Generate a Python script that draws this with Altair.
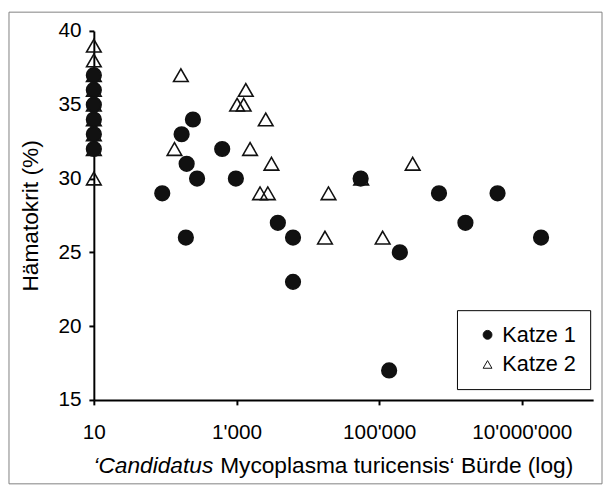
import altair as alt
import pandas as pd

# ---- data ----
k1_load = [10, 10, 10, 10, 10, 10,
           91, 170, 200, 195, 245, 280, 630, 980, 3800, 6200, 6200,
           55000, 138000, 195000, 690000, 1620000, 4570000, 18600000]
k1_hkt = [37, 36, 35, 34, 33, 32,
          29, 33, 31, 26, 34, 30, 32, 30, 27, 26, 23,
          30, 17, 25, 29, 27, 29, 26]

k2_load = [10, 10, 10, 10, 10, 10, 10, 10, 10,
           135, 166, 1020, 1260, 1350, 1550, 2570, 2140, 2750, 3090,
           19500, 17400, 56000, 112000, 295000]
k2_hkt = [39, 38, 37, 36, 35, 34, 33, 32, 30,
          32, 37, 35, 35, 36, 32, 34, 29, 29, 31,
          29, 26, 30, 26, 31]

series_names = ["Katze 1", "Katze 2"]
x_ticks = [10, 1000, 100000, 10000000]
y_ticks = [15, 20, 25, 30, 35, 40]

FONT = "Liberation Sans"
FS = 21        # tick labels
FT = 23        # axis titles
FL = 22        # legend labels
W, H = 506, 374

# Katze 2 first so that the filled circles are drawn on top
df = pd.concat([
    pd.DataFrame({"load": k2_load, "hkt": k2_hkt, "Katze": series_names[1]}),
    pd.DataFrame({"load": k1_load, "hkt": k1_hkt, "Katze": series_names[0]}),
], ignore_index=True)

scale_shape = alt.Scale(domain=series_names, range=["circle", "triangle-up"])
scale_fill = alt.Scale(domain=series_names, range=["#111111", "transparent"])
scale_stroke = alt.Scale(domain=series_names, range=["#111111", "#111111"])

legend = alt.Legend(title=None, orient="none", legendX=368, legendY=283,
                    strokeColor="black", fillColor="white", padding=14,
                    symbolSize=80, symbolStrokeWidth=1, labelFont=FONT,
                    labelFontSize=FL, labelColor="black", labelOffset=4,
                    rowPadding=8, symbolOffset=6)

points = alt.Chart(df).mark_point(opacity=1, strokeWidth=1.6, size=220).encode(
    x=alt.X("load:Q", scale=alt.Scale(type="log", domain=[10, 1e8], nice=False),
            axis=alt.Axis(values=x_ticks, title=None, labelFlush=False,
                          labelExpr="replace(format(datum.value, ','), regexp(',', 'g'), \"'\")",
                          labelPadding=17)),
    y=alt.Y("hkt:Q", scale=alt.Scale(domain=[15, 40], nice=False, zero=False),
            axis=alt.Axis(values=y_ticks, title="Hämatokrit (%)", labelPadding=8,
                          titlePadding=16)),
    shape=alt.Shape("Katze:N", scale=scale_shape, legend=legend),
    fill=alt.Fill("Katze:N", scale=scale_fill, legend=legend),
    stroke=alt.Stroke("Katze:N", scale=scale_stroke, legend=legend),
)

one = pd.DataFrame({"a": [0]})
border = alt.Chart(one).mark_rect(fill="transparent", stroke="#808080", strokeWidth=1).encode(
    x=alt.value(-86), x2=alt.value(515), y=alt.value(-19), y2=alt.value(459)
)

title_y = 441
t_italic = alt.Chart(one).mark_text(font=FONT, fontSize=FT, fontStyle="italic",
                                    align="right", baseline="middle", color="black").encode(
    x=alt.value(121), y=alt.value(title_y), text=alt.value("‘Candidatus")
)
t_normal = alt.Chart(one).mark_text(font=FONT, fontSize=FT, align="left",
                                    baseline="middle", color="black").encode(
    x=alt.value(128), y=alt.value(title_y),
    text=alt.value("Mycoplasma turicensis‘ Bürde (log)")
)

chart = alt.layer(border, points, t_italic, t_normal).properties(
    width=W, height=H, padding=0
).configure_view(strokeWidth=0).configure_axis(
    grid=False, domainColor="black", domainWidth=2, tickColor="black",
    tickWidth=2, tickSize=5, labelFont=FONT, labelFontSize=FS,
    labelColor="black", titleFont=FONT, titleFontSize=FT,
    titleFontWeight="normal", titleColor="black"
)

chart.save("out.html", embed_options={"renderer": "svg", "actions": False})
